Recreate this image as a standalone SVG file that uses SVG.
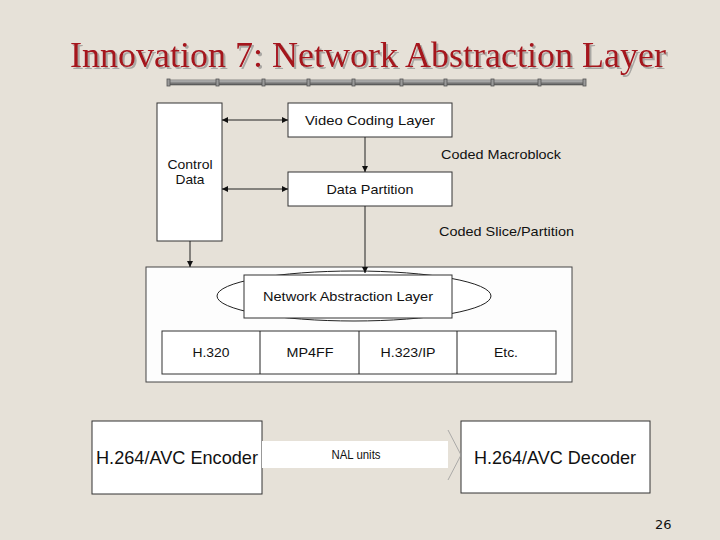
<svg xmlns="http://www.w3.org/2000/svg" width="720" height="540" viewBox="0 0 720 540">
<defs>
<style>
.bx{fill:#ffffff;stroke:#333333;stroke-width:1}
.t{font-family:"Liberation Sans",Arial,sans-serif;font-size:13.5px;fill:#111111;text-anchor:middle}
.lb{font-family:"Liberation Sans",Arial,sans-serif;font-size:13.5px;fill:#111111}
.big{font-family:"Liberation Sans",Arial,sans-serif;font-size:19px;fill:#111111;text-anchor:middle}
.ln{stroke:#222222;stroke-width:1;fill:none}
.jt{fill:#9a9a9a;stroke:#555555;stroke-width:0.8}
</style>
<filter id="sh" x="-5%" y="-20%" width="110%" height="140%">
<feDropShadow dx="2" dy="2" stdDeviation="0.6" flood-color="#777777" flood-opacity="0.55"/>
</filter>
<marker id="ah" viewBox="0 0 10 10" refX="10" refY="5" markerWidth="6" markerHeight="6" orient="auto-start-reverse" markerUnits="userSpaceOnUse">
<path d="M0,0 L10,5 L0,10 z" fill="#111111"/>
</marker>
<linearGradient id="bar" x1="0" y1="0" x2="0" y2="1">
<stop offset="0" stop-color="#d0d0d0"/>
<stop offset="0.5" stop-color="#8a8a8a"/>
<stop offset="1" stop-color="#555555"/>
</linearGradient>
</defs>
<rect x="0" y="0" width="720" height="540" fill="#e6e1d8"/>
<g id="title">
<text x="70" y="67" font-family="'Liberation Serif','Times New Roman',serif" font-size="35" fill="#a5121b" filter="url(#sh)" textLength="596" lengthAdjust="spacingAndGlyphs">Innovation 7: Network Abstraction Layer</text>
</g>
<g id="title-bar">
<rect x="168" y="80" width="417" height="5" fill="url(#bar)" stroke="#555" stroke-width="0.6"/>
<rect x="167" y="79" width="3" height="7" class="jt"/>
<rect x="216" y="79" width="3" height="7" class="jt"/>
<rect x="262" y="79" width="3" height="7" class="jt"/>
<rect x="307" y="79" width="3" height="7" class="jt"/>
<rect x="352" y="79" width="3" height="7" class="jt"/>
<rect x="400" y="79" width="3" height="7" class="jt"/>
<rect x="444" y="79" width="3" height="7" class="jt"/>
<rect x="491" y="79" width="3" height="7" class="jt"/>
<rect x="538" y="79" width="3" height="7" class="jt"/>
<rect x="583" y="79" width="3" height="7" class="jt"/>
</g>
<g id="control-data">
<rect class="bx" x="157" y="103" width="65" height="138"/>
<text class="t" x="190" y="169" font-size="12.5" textLength="45" lengthAdjust="spacingAndGlyphs">Control</text>
<text class="t" x="190" y="184" font-size="12.5" textLength="29" lengthAdjust="spacingAndGlyphs">Data</text>
</g>
<g id="vcl">
<rect class="bx" x="288" y="103" width="164" height="34"/>
<text class="t" x="370" y="125" textLength="130" lengthAdjust="spacingAndGlyphs">Video Coding Layer</text>
</g>
<g id="data-partition">
<rect class="bx" x="288" y="172" width="164" height="34"/>
<text class="t" x="370" y="194" textLength="87" lengthAdjust="spacingAndGlyphs">Data Partition</text>
</g>
<g id="nal-container">
<rect x="146" y="267" width="426" height="115" fill="#fdfdfd" stroke="#444" stroke-width="1"/>
</g>
<g id="nal">
<ellipse cx="354" cy="296" rx="137" ry="25" fill="#ffffff" stroke="#222" stroke-width="1"/>
<rect class="bx" x="244" y="275" width="208" height="43"/>
<text class="t" x="348" y="301" textLength="170" lengthAdjust="spacingAndGlyphs">Network Abstraction Layer</text>
</g>
<g id="transports">
<rect class="bx" x="162" y="331" width="394" height="43"/>
<line class="ln" x1="260" y1="331" x2="260" y2="374"/>
<line class="ln" x1="359" y1="331" x2="359" y2="374"/>
<line class="ln" x1="457" y1="331" x2="457" y2="374"/>
<text class="t" x="211" y="357" textLength="37" lengthAdjust="spacingAndGlyphs">H.320</text>
<text class="t" x="310" y="357" textLength="47" lengthAdjust="spacingAndGlyphs">MP4FF</text>
<text class="t" x="408" y="357" textLength="55" lengthAdjust="spacingAndGlyphs">H.323/IP</text>
<text class="t" x="506" y="357" textLength="24" lengthAdjust="spacingAndGlyphs">Etc.</text>
</g>
<g id="encoder">
<rect class="bx" x="92" y="421" width="170" height="73"/>
<text class="big" x="177" y="464" textLength="162" lengthAdjust="spacingAndGlyphs">H.264/AVC Encoder</text>
</g>
<g id="decoder">
<rect class="bx" x="461" y="421" width="189" height="72"/>
<text class="big" x="555" y="464" textLength="162" lengthAdjust="spacingAndGlyphs">H.264/AVC Decoder</text>
</g>
<g id="connectors">
<line class="ln" x1="222" y1="120" x2="288" y2="120" marker-start="url(#ah)" marker-end="url(#ah)"/>
<line class="ln" x1="222" y1="189" x2="288" y2="189" marker-start="url(#ah)" marker-end="url(#ah)"/>
<line class="ln" x1="365" y1="137" x2="365" y2="172" marker-end="url(#ah)"/>
<line class="ln" x1="365" y1="206" x2="365" y2="273" marker-end="url(#ah)"/>
<line class="ln" x1="190" y1="241" x2="190" y2="267" marker-end="url(#ah)"/>
<text class="lb" x="441" y="159" textLength="120" lengthAdjust="spacingAndGlyphs">Coded Macroblock</text>
<text class="lb" x="439" y="236" textLength="135" lengthAdjust="spacingAndGlyphs">Coded Slice/Partition</text>
<rect x="262" y="441" width="186" height="27" fill="#ffffff"/>
<path d="M448,430 L461,455 L448,480" fill="none" stroke="#9a9a9a" stroke-width="0.8"/>
<text class="t" x="356" y="459" font-size="12.5" textLength="49" lengthAdjust="spacingAndGlyphs">NAL units</text>
</g>
<g id="page-number">
<text x="655" y="529" font-family="'DejaVu Sans',Verdana,sans-serif" font-size="13" fill="#111">26</text>
</g>
</svg>
